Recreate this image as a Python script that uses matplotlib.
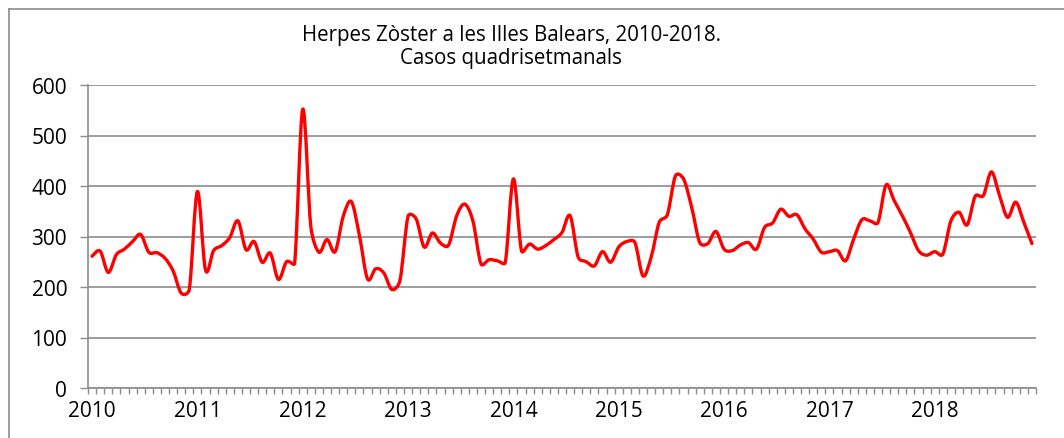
import numpy as np
import matplotlib
matplotlib.use("Agg")
import matplotlib.pyplot as plt
from matplotlib.path import Path
from matplotlib.patches import PathPatch
from matplotlib.lines import Line2D

plt.rcParams['font.family'] = ['Open Sans', 'DejaVu Sans']

# 13 four-week periods per year, 2010-2018
years = [2010, 2011, 2012, 2013, 2014, 2015, 2016, 2017, 2018]
periods_per_year = 13

cases = [
    # 2010
    261, 271, 229, 264, 275, 290, 304, 269, 268, 257, 232, 188, 195,
    # 2011
    389, 234, 272, 282, 298, 331, 274, 290, 249, 267, 215, 250, 247,
    # 2012
    552, 320, 269, 294, 270, 340, 369, 302, 216, 236, 228, 195, 213,
    # 2013
    340, 335, 279, 307, 287, 283, 341, 364, 331, 246, 254, 252, 249,
    # 2014
    414, 272, 285, 275, 282, 294, 308, 341, 259, 250, 242, 270, 249,
    # 2015
    279, 290, 288, 222, 259, 328, 343, 420, 414, 358, 288, 286, 310,
    # 2016
    275, 272, 283, 288, 275, 318, 327, 354, 340, 343, 315, 295, 269,
    # 2017
    270, 272, 252, 295, 333, 331, 328, 402, 371, 341, 308, 272, 263,
    # 2018
    270, 265, 331, 348, 323, 380, 381, 428, 381, 338, 368, 328, 286,
]

n = len(cases)
x = np.arange(n)
y = np.array(cases, dtype=float)

fig = plt.figure(figsize=(10.64, 4.39), dpi=100)
ax = fig.add_axes([88 / 1064, 1 - 389 / 439, (1036 - 88) / 1064, (389 - 86) / 439])
ax.set_xlim(-0.5, n - 0.5)
ax.set_ylim(0, 600)

# smoothed line: Catmull-Rom style Bezier through every point, with the handles
# clamped to half the neighbouring segment (in pixels) so spikes don't overshoot
sx = 948 / n
sy = 303 / 600
P = np.column_stack([x * sx, y * sy])
m = np.array([(P[min(i + 1, n - 1)] - P[max(i - 1, 0)]) / 6 for i in range(n)])


def handle(i, seg_len):
    h = m[i]
    hl = np.hypot(*h)
    lim = 0.5 * seg_len
    if hl > lim and hl > 0:
        h = h * lim / hl
    return h


verts = [tuple(P[0])]
codes = [Path.MOVETO]
for i in range(n - 1):
    L = np.hypot(*(P[i + 1] - P[i]))
    c1 = P[i] + handle(i, L)
    c2 = P[i + 1] - handle(i + 1, L)
    verts += [tuple(c1), tuple(c2), tuple(P[i + 1])]
    codes += [Path.CURVE4] * 3
verts = [(vx / sx, vy / sy) for vx, vy in verts]
ax.add_patch(PathPatch(Path(verts, codes), facecolor='none', edgecolor='#ff0000',
                       linewidth=2.4, capstyle='round', joinstyle='round', zorder=3))

ax.set_yticks(range(0, 601, 100))
ax.yaxis.grid(True, color='#8c8c8c', linewidth=1.2)
ax.set_axisbelow(True)

ax.set_xticks(np.arange(len(years)) * periods_per_year)
ax.set_xticklabels([str(yr) for yr in years])
ax.set_xticks(np.arange(-0.5, n, 1), minor=True)
ax.tick_params(axis='x', which='major', length=0, pad=9, labelsize=15, colors='#000000')
ax.tick_params(axis='x', which='minor', length=4, width=1, color='#8c8c8c', direction='out')
ax.tick_params(axis='y', length=6, width=1, color='#8c8c8c', labelsize=15, pad=9)

for side in ['top', 'right']:
    ax.spines[side].set_visible(False)
for side in ['left', 'bottom']:
    ax.spines[side].set_color('#8c8c8c')
    ax.spines[side].set_linewidth(1.2)

fig.text(511 / 1064, 1 - 47 / 439, "Herpes Zòster a les Illes Balears, 2010-2018.\nCasos quadrisetmanals",
         ha='center', va='center', fontsize=14.8, linespacing=1.15)

# chart frame
fig.add_artist(Line2D([9 / 1064, 1], [1 - 10 / 439, 1 - 10 / 439], color='#8c8c8c', linewidth=1.2))
fig.add_artist(Line2D([9 / 1064, 9 / 1064], [0, 1 - 10 / 439], color='#8c8c8c', linewidth=1.2))

fig.savefig("out.png", dpi=100)
